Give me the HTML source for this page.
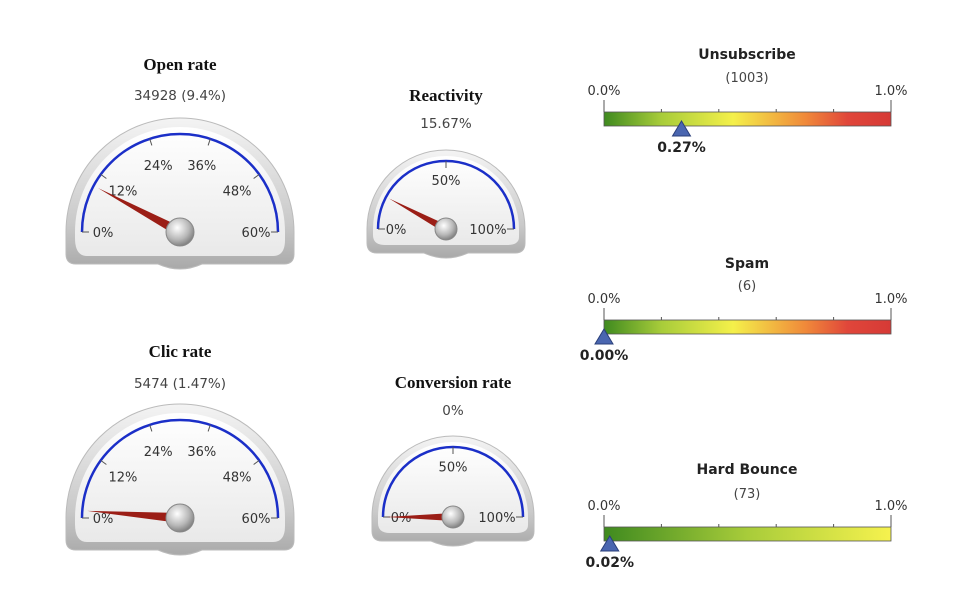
<!DOCTYPE html>
<html><head><meta charset="utf-8"><style>
body{margin:0;background:#fff;width:980px;height:603px;overflow:hidden}
svg text{font-family:"DejaVu Sans","Liberation Sans",sans-serif}
.t{font-family:"Liberation Serif",serif !important;font-weight:bold;font-size:17px;fill:#111}
</style></head><body>
<svg id="c" width="980" height="603">
<defs>
<linearGradient id="bez" x1="0" y1="0" x2="0" y2="1"><stop offset="0" stop-color="#f4f4f4"/><stop offset="0.7" stop-color="#c9c9c9"/><stop offset="1" stop-color="#a9a9a9"/></linearGradient>
<linearGradient id="face" x1="0" y1="0" x2="0" y2="1"><stop offset="0" stop-color="#fff"/><stop offset="1" stop-color="#e9e9e9"/></linearGradient>
<radialGradient id="knob" cx="0.4" cy="0.35" r="0.7"><stop offset="0" stop-color="#fff"/><stop offset="0.6" stop-color="#b8b8b8"/><stop offset="1" stop-color="#777"/></radialGradient>
<linearGradient id="gr1" x1="0" x2="1"><stop offset="0" stop-color="#3f8a1f"/><stop offset="0.2" stop-color="#a8cc3a"/><stop offset="0.45" stop-color="#f4f04a"/><stop offset="0.7" stop-color="#f08a3a"/><stop offset="0.85" stop-color="#e0463a"/><stop offset="1" stop-color="#d63a36"/></linearGradient>
<linearGradient id="gr2" x1="0" x2="1"><stop offset="0" stop-color="#3f8a1f"/><stop offset="0.5" stop-color="#a8cc3a"/><stop offset="1" stop-color="#f6f24e"/></linearGradient>
</defs>
</svg>
<script>
const gaugeNames=["Open rate","Reactivity","Clic rate","Conversion rate"];
const gaugeSub=["34928  (9.4%)","15.67%","5474  (1.47%)","0%"];
const gaugeValues=[9.4,15.67,1.47,0];
const gaugeMax=[60,100,60,100];
const gaugeTicks=[[0,12,24,36,48,60],[0,50,100],[0,12,24,36,48,60],[0,50,100]];
const barNames=["Unsubscribe","Spam","Hard Bounce"];
const barSub=["(1003)","(6)","(73)"];
const barValues=[0.27,0.00,0.02];
const barMax=1.0;
const NS="http://www.w3.org/2000/svg";
const svg=document.getElementById('c');
function mk(t,a,p){const e=document.createElementNS(NS,t);for(const k in a)e.setAttribute(k,a[k]);(p||svg).appendChild(e);return e;}
const gl=[{cx:180,cy:232,r:98,ty:70,sy:100},{cx:446,cy:229,r:68,ty:101,sy:128},{cx:180,cy:518,r:98,ty:357,sy:388},{cx:453,cy:517,r:70,ty:388,sy:415}];
gaugeNames.forEach((n,i)=>{
 const L=gl[i],g=mk('g',{});
 
 
 const tt=mk('text',{x:L.cx,y:L.ty,'text-anchor':'middle',class:'t'},g);tt.textContent=n;
 
 const st=mk('text',{x:L.cx,y:L.sy,'text-anchor':'middle','font-size':13.5,fill:'#444'},g);st.textContent=gaugeSub[i];
 
 const big=L.r>80;
 const R=L.r+(big?16:11),cx=L.cx,cy=L.cy,bb=cy+(big?32:24);
 mk('path',{d:`M${cx-R} ${cy} A${R} ${R} 0 0 1 ${cx+R} ${cy} L${cx+R} ${bb-10} Q${cx+R} ${bb} ${cx+R-10} ${bb} L${cx+22} ${bb} Q${cx} ${bb+10} ${cx-22} ${bb} L${cx-R+10} ${bb} Q${cx-R} ${bb} ${cx-R} ${bb-10}Z`,fill:'url(#bez)',stroke:'#bbb'},g);
 const F=L.r+(big?7:5);
 mk('path',{d:`M${cx-F} ${cy+6} L${cx-F} ${cy} A${F} ${F} 0 0 1 ${cx+F} ${cy} L${cx+F} ${cy+8} Q${cx+F} ${bb-8} ${cx+F-12} ${bb-8} L${cx-F+12} ${bb-8} Q${cx-F} ${bb-8} ${cx-F} ${cy+6}Z`,fill:'url(#face)'},g);
 const r=L.r;
 mk('path',{d:`M${cx-r} ${cy} A${r} ${r} 0 0 1 ${cx+r} ${cy}`,fill:'none',stroke:'#1b2fc8','stroke-width':2.5},g);
 const ticks=gaugeTicks[i];
 ticks.forEach((v,k)=>{
  const a=Math.PI*(1-v/gaugeMax[i]),c=Math.cos(a),s=Math.sin(a);
  mk('line',{x1:cx+c*r,y1:cy-s*r,x2:cx+c*(r-7),y2:cy-s*(r-7),stroke:'#555','stroke-width':1},g);
  const lr=r*0.72;let lx=cx+c*lr,ly=cy-s*lr+5;
  if(k==0){lx=cx-r+(big?21:18);ly=cy+5}
  if(k==ticks.length-1){lx=cx+r-(big?22:26);ly=cy+5}
  const lt=mk('text',{x:lx,y:ly,'text-anchor':'middle','font-size':13,fill:'#333'},g);lt.textContent=v+'%';
  
 });
 const a=Math.PI*(1-gaugeValues[i]/gaugeMax[i]),c=Math.cos(a),s=Math.sin(a),nl=r*0.95,w=big?5:4;
 const nd=mk('polygon',{points:`${cx+c*nl},${cy-s*nl} ${cx-s*w},${cy-c*w} ${cx+s*w},${cy+c*w}`,fill:'#9b1e16'},g);
 
 mk('circle',{cx:cx,cy:cy,r:big?14:11,fill:'url(#knob)',stroke:'#888'},g);
});
const bl=[{y:112,ty:59,sy:82},{y:320,ty:268,sy:290},{y:527,ty:474,sy:498}];
const bx=604,bw=287;
barNames.forEach((n,i)=>{
 const L=bl[i],g=mk('g',{});
 
 
 const tt=mk('text',{x:747,y:L.ty,'text-anchor':'middle','font-size':14,'font-weight':'bold',fill:'#222'},g);tt.textContent=n;
 const st=mk('text',{x:747,y:L.sy,'text-anchor':'middle','font-size':13,fill:'#444'},g);st.textContent=barSub[i];
 const a=mk('text',{x:bx,y:L.y-17,'text-anchor':'middle','font-size':13,fill:'#333'},g);a.textContent='0.0%';
 const b=mk('text',{x:bx+bw,y:L.y-17,'text-anchor':'middle','font-size':13,fill:'#333'},g);b.textContent='1.0%';
 mk('rect',{x:bx,y:L.y,width:bw,height:14,fill:i==2?'url(#gr2)':'url(#gr1)',stroke:'#555','stroke-width':0.8},g);
 for(let k=0;k<=5;k++){const x=bx+bw*k/5;mk('line',{x1:x,y1:L.y-(k%5?3:12),x2:x,y2:L.y,stroke:'#555'},g);}
 const mx=bx+bw*barValues[i]/barMax;
 const m=mk('polygon',{points:`${mx},${L.y+9} ${mx-9},${L.y+24} ${mx+9},${L.y+24}`,fill:'#4a66b0',stroke:'#2a3f7a'},g);
 
 const vt=mk('text',{x:mx,y:L.y+40,'text-anchor':'middle','font-size':14,'font-weight':'bold',fill:'#222'},g);vt.textContent=barValues[i].toFixed(2)+'%';
 
});
</script>
</body></html>
